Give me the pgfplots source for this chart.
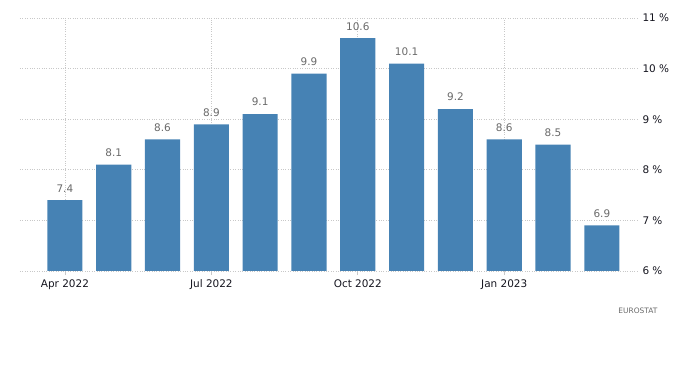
\documentclass[border=0pt]{standalone}
\usepackage{fontspec}
\setmainfont{DejaVu Sans}
\usepackage{pgfplots}
\pgfplotsset{compat=1.18}
\definecolor{barblue}{RGB}{70,130,180}
\definecolor{gridgray}{RGB}{200,200,200}
\definecolor{labgray}{RGB}{105,105,105}
\definecolor{tickblack}{RGB}{20,20,30}
\begin{document}
\begin{tikzpicture}
\path[use as bounding box] (-20bp,-96bp) rectangle (680bp,271bp);
\begin{axis}[
  at={(0bp,0bp)}, anchor=south west,
  scale only axis, width=617bp, height=253bp,
  xmin=-0.92, xmax=11.72, ymin=6, ymax=11,
  ytick={6,7,8,9,10,11},
  yticklabel pos=right,
  yticklabel={\pgfmathprintnumber{\tick}~\%},
  xtick={0,3,6,9},
  xticklabels={Apr 2022, Jul 2022, Oct 2022, Jan 2023},
  /pgf/number format/assume math mode=true,
  axis line style={draw=none},
  ytick style={draw=none},
  xtick style={draw=gridgray, line width=0.6bp},
  xtick pos=bottom, xtick align=outside, major tick length=4bp,
  grid=major,
  grid style={dotted, gridgray, line width=0.8bp},
  ticklabel style={font=\fontsize{10.5}{12}\selectfont, text=tickblack},
  yticklabel style={anchor=west, xshift=2bp},
  xticklabel style={yshift=-1bp},
  ybar, bar width=0.72, bar shift=0pt,
  nodes near coords,
  every node near coord/.append style={font=\fontsize{10.5}{12}\selectfont, text=labgray, yshift=4.5bp},
]
\addplot[fill=barblue, draw=none] coordinates {
(0,7.4) (1,8.1) (2,8.6) (3,8.9) (4,9.1) (5,9.9) (6,10.6) (7,10.1) (8,9.2) (9,8.6) (10,8.5) (11,6.9)
};
\end{axis}
\node[font=\fontsize{7.5}{9}\selectfont, text=labgray] at (618bp,-40bp) {EUROSTAT};
\end{tikzpicture}
\end{document}
